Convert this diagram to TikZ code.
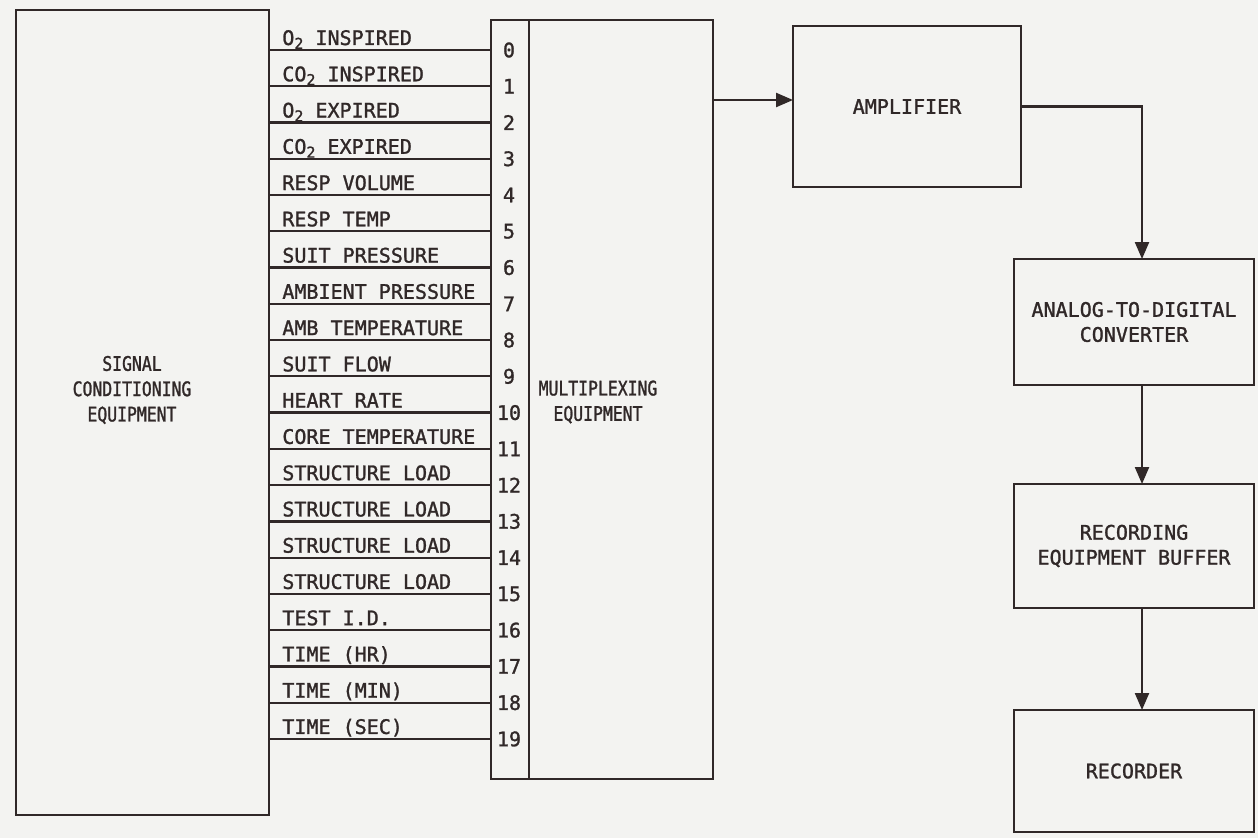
\documentclass[tikz,border=0pt]{standalone}
\usepackage{fontspec}
\newfontfamily\lettering[FakeBold=1.3]{DejaVu Sans Mono}
\newfontfamily\narrowlettering[FakeBold=1.3,FakeStretch=0.82]{DejaVu Sans Mono}
\usetikzlibrary{arrows.meta}
\definecolor{ink}{HTML}{302828}
\definecolor{paper}{HTML}{F3F3F1}
\newcommand\sbtwo{\raisebox{-0.35ex}{\fontsize{8.5}{8.5}\selectfont 2}}
\begin{document}
\begin{tikzpicture}[x=0.02cm,y=-0.02cm,
  letters/.style={font=\lettering\fontsize{11.4}{14.2}\selectfont,text=ink},
  box/.style={draw=ink,line width=1.3pt,rectangle,inner sep=0pt,outer sep=0pt,letters,align=center},
  lbl/.style={letters,anchor=base west,inner sep=0pt},
  num/.style={letters,inner sep=0pt},
  txt/.style={text=ink,align=center,inner sep=0pt,font=\narrowlettering\fontsize{11.4}{14.4}\selectfont},
  wire/.style={draw=ink,line width=1.3pt},
  arr/.style={wire,-{Triangle[length=0.34cm,width=0.28cm]}}]
\fill[paper] (0,0) rectangle (1258,838);
\useasboundingbox (0,0) rectangle (1258,838);

% main blocks
\node[box,minimum width=5.06cm,minimum height=16.1cm] (sig) at (142.5,412.5) {};
\node[box,minimum width=0.76cm,minimum height=15.18cm] (col) at (510,399.5) {};
\node[box,minimum width=3.68cm,minimum height=15.18cm] (mux) at (621,399.5) {};
\node[txt] (sigtxt) at (132,390) {SIGNAL\\CONDITIONING\\EQUIPMENT};
\node[txt] (muxtxt) at (598,402) {MULTIPLEXING\\EQUIPMENT};

\node[box,minimum width=4.56cm,minimum height=3.22cm] (amp) at (907,106.5) {AMPLIFIER};
\node[box,minimum width=4.8cm,minimum height=2.52cm] (adc) at (1134,322) {ANALOG-TO-DIGITAL\\CONVERTER};
\node[box,minimum width=4.8cm,minimum height=2.48cm] (buf) at (1134,546) {RECORDING\\EQUIPMENT BUFFER};
\node[box,minimum width=4.8cm,minimum height=2.44cm] (rec) at (1134,771) {RECORDER};

% channels
\foreach \k/\t in {0/{O\sbtwo{} INSPIRED},1/{CO\sbtwo{} INSPIRED},2/{O\sbtwo{} EXPIRED},3/{CO\sbtwo{} EXPIRED},
  4/{RESP VOLUME},5/{RESP TEMP},6/{SUIT PRESSURE},7/{AMBIENT PRESSURE},8/{AMB TEMPERATURE},
  9/{SUIT FLOW},10/{HEART RATE},11/{CORE TEMPERATURE},12/{STRUCTURE LOAD},13/{STRUCTURE LOAD},
  14/{STRUCTURE LOAD},15/{STRUCTURE LOAD},16/{TEST I.D.},17/{TIME (HR)},18/{TIME (MIN)},19/{TIME (SEC)}} {
  \pgfmathsetmacro\yy{50+36.26*\k}
  \coordinate (y\k) at (0,\yy);
  \draw[wire] (sig.east |- y\k) -- (col.west |- y\k);
  \node[lbl] (l\k) at (282,\yy-5) {\t};
  \node[num] (n\k) at (509,\yy) {\k};
}

% signal path
\coordinate (yA) at (0,100);
\coordinate (ax) at (1142,0);
\draw[arr] (mux.east |- yA) -- (amp.west |- yA);
\draw[arr] (amp.east) -| (ax |- adc.north);
\draw[arr] (ax |- adc.south) -- (ax |- buf.north);
\draw[arr] (ax |- buf.south) -- (ax |- rec.north);
\end{tikzpicture}
\end{document}
